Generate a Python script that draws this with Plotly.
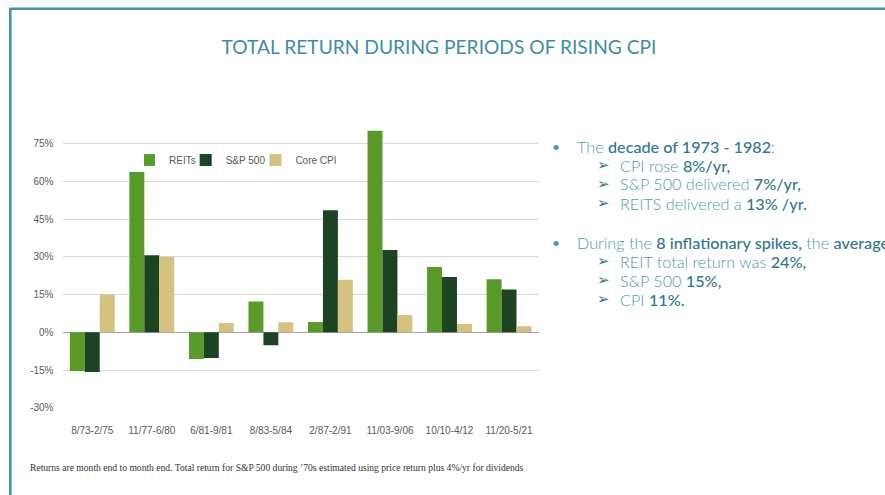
import plotly.graph_objects as go

W, H = 885, 495

periods = ["8/73-2/75", "11/77-6/80", "6/81-9/81", "8/83-5/84",
           "2/87-2/91", "11/03-9/06", "10/10-4/12", "11/20-5/21"]
reits = [-15.4, 63.8, -10.6, 12.3, 4.1, 80.2, 26.0, 21.1]
sp500 = [-15.8, 30.7, -10.2, -5.2, 48.6, 32.8, 22.0, 17.0]
core_cpi = [15.0, 30.1, 3.7, 4.0, 20.9, 6.9, 3.3, 2.4]

series_names = ["REITs", "S&P 500", "Core CPI"]
series_colors = ["#5a9a29", "#1c4423", "#d5c180"]
y_ticks = [-30, -15, 0, 15, 30, 45, 60, 75]
y_tick_text = ["-30%", "-15%", "0%", "15%", "30%", "45%", "60%", "75%"]

title_text = "TOTAL RETURN DURING PERIODS OF RISING CPI"
footnote = ("Returns are month end to month end. Total return for S&P 500 during "
            "\u201970s estimated using price return plus 4%/yr for dividends")

LIGHT = "#4f9ab1"
DARK = "#2f7891"

def em(t):
    return f"<span style='font-weight:500;color:{DARK}'>{t}</span>"

bullet_lines = [
    ("bullet", "The " + em("decade of 1973 - 1982") + ":"),
    ("arrow", "CPI rose " + em("8%/yr,")),
    ("arrow", "S&P 500 delivered " + em("7%/yr,")),
    ("arrow", "REITS delivered a " + em("13% /yr.")),
    ("bullet", "During the " + em("8 inflationary spikes,") + " the " + em("average")),
    ("arrow", "REIT total return was " + em("24%,")),
    ("arrow", "S&P 500 " + em("15%,")),
    ("arrow", "CPI " + em("11%.")),
]
line_y = [146, 165, 184, 203, 242, 261, 280, 299]

def px_x(v):
    return v / W

def px_y(v):
    return (H - v) / H

fig = go.Figure()
for name, vals, col in zip(series_names, [reits, sp500, core_cpi], series_colors):
    fig.add_trace(go.Bar(name=name, x=periods, y=vals, marker=dict(color=col, line=dict(width=0))))

y_min, y_max = -30, 82
plot_bottom, plot_top = 407.7, 407.7 - (y_max - y_min) * 2.513

fig.update_layout(
    width=W, height=H,
    margin=dict(l=0, r=0, t=0, b=0, autoexpand=False),
    paper_bgcolor="white", plot_bgcolor="white",
    barmode="group", bargap=0.247, bargroupgap=0,
    font=dict(family="Liberation Sans, Arial", size=10, color="#595959"),
    title=dict(text=title_text, x=439 / W, xanchor="center", y=px_y(47), yanchor="middle",
               font=dict(family="Lato", size=19.2, color="#3f8da4")),
    xaxis=dict(domain=[px_x(62.5), px_x(538.8)], showgrid=False, showline=False, zeroline=False,
               ticks="", ticklabelstandoff=15, tickfont=dict(size=10, color="#595959")),
    yaxis=dict(domain=[px_y(plot_bottom), px_y(plot_top)], range=[y_min, y_max],
               tickvals=y_ticks, ticktext=y_tick_text, showgrid=True, gridcolor="#d9d9d9", gridwidth=1,
               zeroline=True, zerolinecolor="#a0a0a0", zerolinewidth=1.4, showline=False,
               ticks="", ticklabelstandoff=8, tickfont=dict(size=10, color="#595959")),
    legend=dict(orientation="h", x=px_x(144), xanchor="left", y=px_y(160), yanchor="middle",
                font=dict(size=10, color="#595959"), bgcolor="rgba(0,0,0,0)",
                itemwidth=30, indentation=-15, traceorder="normal"),
    showlegend=True,
)

# slide border
fig.add_shape(type="line", xref="paper", yref="paper", x0=px_x(9.5), x1=1.01, y0=px_y(8.7), y1=px_y(8.7),
              line=dict(color="#4592a9", width=2.6))
fig.add_shape(type="line", xref="paper", yref="paper", x0=px_x(10.3), x1=px_x(10.3), y0=px_y(8), y1=-0.01,
              line=dict(color="#4592a9", width=2.6))

for (kind, txt), yy in zip(bullet_lines, line_y):
    if kind == "bullet":
        fig.add_annotation(xref="paper", yref="paper", x=px_x(550), y=px_y(yy), xanchor="left", yanchor="middle",
                           text="\u2022", showarrow=False, font=dict(family="Lato", size=14, color=LIGHT))
        fig.add_annotation(xref="paper", yref="paper", x=px_x(575), y=px_y(yy), xanchor="left", yanchor="middle",
                           text=f"<span style='font-weight:300'>{txt}</span>", showarrow=False,
                           font=dict(family="Lato", size=16.2, color=LIGHT))
    else:
        fig.add_annotation(xref="paper", yref="paper", x=px_x(595), y=px_y(yy), xanchor="left", yanchor="middle",
                           text="\u27a2", showarrow=False, font=dict(family="DejaVu Sans", size=15, color=DARK))
        fig.add_annotation(xref="paper", yref="paper", x=px_x(618), y=px_y(yy), xanchor="left", yanchor="middle",
                           text=f"<span style='font-weight:300'>{txt}</span>", showarrow=False,
                           font=dict(family="Lato", size=16.2, color=LIGHT))

fig.add_annotation(xref="paper", yref="paper", x=px_x(28), y=px_y(467), xanchor="left", yanchor="middle",
                   text=footnote, showarrow=False,
                   font=dict(family="Liberation Serif, Times New Roman", size=9.6, color="#333333"))

post = ("var s=document.createElement('style');"
        "s.textContent='html,body{margin:0;padding:0;height:495px;overflow:hidden;line-height:0}';"
        "document.head.appendChild(s);"
        "var g=document.querySelector('.plotly-graph-div');"
        "if(g&&g.parentElement){g.parentElement.style.height='495px';g.parentElement.style.overflow='hidden';}")
fig.write_html("out.html", config={"displayModeBar": False}, post_script=post)
